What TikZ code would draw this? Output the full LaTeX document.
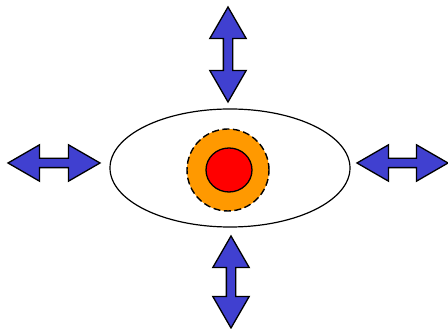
\documentclass[tikz,border=0pt]{standalone}
\usepackage{xcolor}
\usepackage{tikz}
\usetikzlibrary{shapes.arrows, shapes.geometric}

\definecolor{arrowblue}{RGB}{64,64,208}
\definecolor{ringorange}{RGB}{255,153,0}

\tikzset{
    dblarrow/.style={double arrow, draw=black, fill=arrowblue, line width=1.3pt,
        inner xsep=0pt, inner ysep=4pt, double arrow head extend=13.5pt,
        double arrow tip angle=60, minimum height=#1},
}

\begin{document}
\begin{tikzpicture}[x=1pt, y=1pt]
    \useasboundingbox (0,0) rectangle (448,329);
    \node[ellipse, draw, line width=1.2pt, minimum width=240pt, minimum height=118pt] (ell) at (230,161) {};
    \node[circle, draw, fill=ringorange, line width=1.4pt, dash pattern=on 7pt off 3.5pt, minimum size=82pt, inner sep=0pt] (ring) at (228,159) {};
    \node[ellipse, draw, fill=red, line width=1.3pt, minimum width=46pt, minimum height=44pt, inner sep=0pt] (core) at (229,159) {};
    % arrows round the ellipse
    \node[dblarrow=95pt, rotate=90] (up) at (228,274.5) {};
    \node[dblarrow=92pt, rotate=90] (down) at (231,47) {};
    \node[dblarrow=92pt] (left) at (54,166) {};
    \node[dblarrow=91pt] (right) at (402.5,166) {};
\end{tikzpicture}
\end{document}
